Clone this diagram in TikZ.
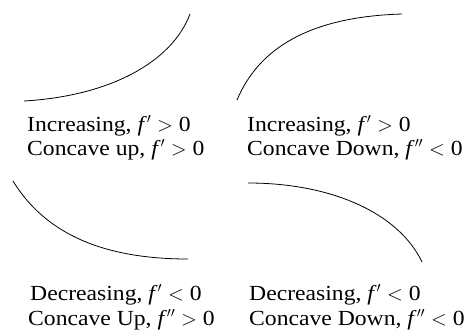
\documentclass[tikz,border=0pt]{standalone}
\usepackage{fontspec}
\setmainfont{Liberation Serif}[FakeStretch=1.1]
\tikzset{caption/.style={inner sep=0pt,anchor=base west,font=\fontsize{21.5}{24}\selectfont},
  curve/.style={line width=0.8pt}}
\newcommand{\fd}{\textit{f}$'$}
\newcommand{\fdd}{\textit{f}$''$}

\begin{document}
\begin{tikzpicture}[x=1pt,y=-1pt]
  \useasboundingbox (0,0) rectangle (470,335);
  % increasing, concave up
  \draw[curve] (24,101) .. controls (110,96) and (172,62) .. (190,14);
  \node[caption] (incup1) at (27,131) {Increasing, \fd\ $>$ 0};
  \node[caption] (incup2) at (27,155) {Concave up, \fd\ $>$ 0};
  % increasing, concave down
  \draw[curve] (237,100) .. controls (256,55) and (300,17) .. (402,14);
  \node[caption] (incdn1) at (247,131) {Increasing, \fd\ $>$ 0};
  \node[caption] (incdn2) at (247,155) {Concave Down, \fdd\ $<$ 0};
  % decreasing, concave up
  \draw[curve] (13,181) .. controls (40,225) and (90,259) .. (188,259);
  \node[caption] (decup1) at (30,300) {Decreasing, \fd\ $<$ 0};
  \node[caption] (decup2) at (28,325) {Concave Up, \fdd\ $>$ 0};
  % decreasing, concave down
  \draw[curve] (248,183) .. controls (330,183) and (398,212) .. (422,262);
  \node[caption] (decdn1) at (249,300) {Decreasing, \fd\ $<$ 0};
  \node[caption] (decdn2) at (249,325) {Concave Down, \fdd\ $<$ 0};
\end{tikzpicture}
\end{document}
